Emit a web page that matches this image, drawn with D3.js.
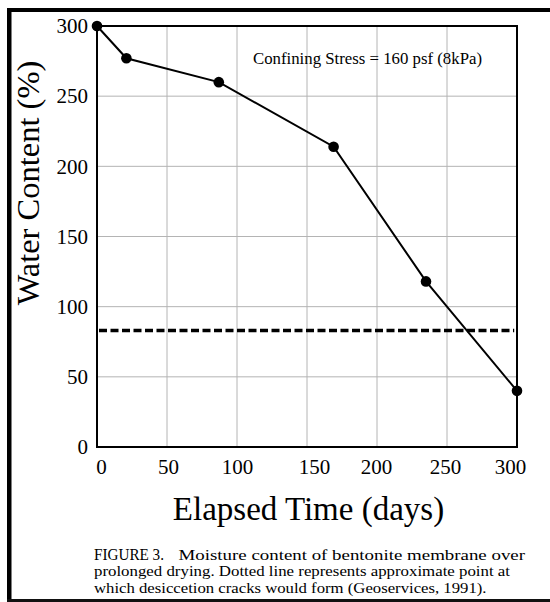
<!DOCTYPE html>
<html><head><meta charset="utf-8">
<script src="https://cdn.jsdelivr.net/npm/d3@7"></script>
<style>
body{margin:0;background:#fff}
svg{display:block}
text{font-family:"Liberation Serif","Times New Roman",serif;fill:#000}
</style>
</head><body>
<svg id="chart" width="550" height="602"></svg>
<script>
// ---- data ----
const days = [0, 21, 87, 169, 235, 300];
const waterContent = [300, 277, 260, 214, 118, 40];
const crackThreshold = 83;
const xTickValues = [0, 50, 100, 150, 200, 250, 300];
const yTickValues = [0, 50, 100, 150, 200, 250, 300];
const annotationText = "Confining Stress = 160 psf (8kPa)";
const xTitle = "Elapsed Time (days)";
const yTitle = "Water Content (%)";
const captionLabel = "FIGURE 3.";
const captionLines = [
  "Moisture content of bentonite membrane over",
  "prolonged drying. Dotted line represents approximate point at",
  "which desiccetion cracks would form (Geoservices, 1991)."
];

// ---- layout ----
const L = 97, T = 26, R = 517, B = 447;
const svg = d3.select("#chart");

// outer page frame
svg.append("rect").attr("x", 7).attr("y", 8).attr("width", 543).attr("height", 4).attr("fill", "#000");
svg.append("rect").attr("x", 7).attr("y", 8).attr("width", 4.5).attr("height", 594).attr("fill", "#000");
svg.append("rect").attr("x", 7).attr("y", 599).attr("width", 543).attr("height", 3).attr("fill", "#111");

const x = d3.scaleLinear().domain([0, 300]).range([L, R]);
const y = d3.scaleLinear().domain([0, 300]).range([B, T]);

// grid
const g = svg.append("g");
g.selectAll("line.vg").data(xTickValues.filter(v => v > 0 && v < 300)).join("line")
  .attr("x1", d => x(d)).attr("x2", d => x(d)).attr("y1", T).attr("y2", B)
  .attr("stroke", "#b4b4b4").attr("stroke-width", 1);
g.selectAll("line.hg").data(yTickValues.filter(v => v > 0 && v < 300)).join("line")
  .attr("x1", L).attr("x2", R).attr("y1", d => y(d)).attr("y2", d => y(d))
  .attr("stroke", "#b4b4b4").attr("stroke-width", 1);

// axes
const xNudge = {0: 4, 50: 1, 100: 0, 150: 7, 200: -1, 250: -2, 300: -7};
const xAxis = svg.append("g").attr("transform", `translate(0,${B})`)
  .call(d3.axisBottom(x).tickValues(xTickValues).tickSize(0).tickPadding(12).tickFormat(d3.format("d")));
xAxis.select(".domain").remove();
xAxis.selectAll("text").attr("font-size", 21).attr("font-family", "Liberation Serif")
  .attr("dx", d => xNudge[d] || 0);

const yAxis = svg.append("g").attr("transform", `translate(${L},0)`)
  .call(d3.axisLeft(y).tickValues(yTickValues).tickSize(0).tickPadding(9).tickFormat(d3.format("d")));
yAxis.select(".domain").remove();
yAxis.selectAll("text").attr("font-size", 21).attr("font-family", "Liberation Serif");

// plot frame
svg.append("rect").attr("x", L).attr("y", T).attr("width", R - L).attr("height", B - T)
  .attr("fill", "none").attr("stroke", "#000").attr("stroke-width", 2);

// threshold dashed line
svg.append("line")
  .attr("x1", x(0) + 2).attr("x2", x(298)).attr("y1", y(crackThreshold)).attr("y2", y(crackThreshold))
  .attr("stroke", "#000").attr("stroke-width", 3.5).attr("stroke-dasharray", "8,3.5");

// series
const pts = days.map((d, i) => ({d, w: waterContent[i]}));
svg.append("path").datum(pts)
  .attr("d", d3.line().x(p => x(p.d)).y(p => y(p.w)))
  .attr("fill", "none").attr("stroke", "#000").attr("stroke-width", 2);
svg.selectAll("circle.pt").data(pts).join("circle")
  .attr("cx", p => x(p.d)).attr("cy", p => y(p.w)).attr("r", 5.3).attr("fill", "#000");

// annotation
svg.append("text").attr("x", 253).attr("y", 64).attr("font-size", 16.8).text(annotationText);

// axis titles
svg.append("text").attr("x", 308.5).attr("y", 520).attr("text-anchor", "middle")
  .attr("font-size", 33).text(xTitle);
svg.append("text").attr("transform", "translate(39,183) rotate(-90)").attr("text-anchor", "middle")
  .attr("font-size", 32.5).text(yTitle);

// caption
svg.append("text").attr("x", 94).attr("y", 559.5).attr("font-size", 16.5)
  .attr("textLength", 70).attr("lengthAdjust", "spacingAndGlyphs").text(captionLabel);
svg.append("text").attr("x", 178.5).attr("y", 559.5).attr("font-size", 14.5)
  .attr("textLength", 346.5).attr("lengthAdjust", "spacingAndGlyphs").text(captionLines[0]);
svg.append("text").attr("x", 94).attr("y", 576).attr("font-size", 14.5)
  .attr("textLength", 416).attr("lengthAdjust", "spacingAndGlyphs").text(captionLines[1]);
svg.append("text").attr("x", 94).attr("y", 592.5).attr("font-size", 14.5)
  .attr("textLength", 392.5).attr("lengthAdjust", "spacingAndGlyphs").text(captionLines[2]);
</script>
</body></html>
